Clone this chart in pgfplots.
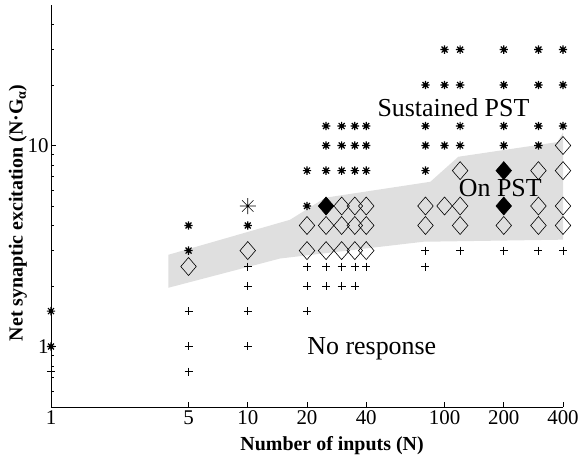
\documentclass[border=0pt]{standalone}
\usepackage{fontspec}
\setmainfont{Liberation Serif}
\usepackage{pgfplots}
\pgfplotsset{compat=1.18}

\pgfdeclareplotmark{blob}{%
  \pgfpathcircle{\pgfpointorigin}{0.5\pgfplotmarksize}%
  \pgfusepathqfill
  \pgfpathmoveto{\pgfqpoint{-\pgfplotmarksize}{0pt}}\pgfpathlineto{\pgfqpoint{\pgfplotmarksize}{0pt}}%
  \pgfpathmoveto{\pgfqpoint{0pt}{-\pgfplotmarksize}}\pgfpathlineto{\pgfqpoint{0pt}{\pgfplotmarksize}}%
  \pgfpathmoveto{\pgfqpoint{-0.707\pgfplotmarksize}{-0.707\pgfplotmarksize}}\pgfpathlineto{\pgfqpoint{0.707\pgfplotmarksize}{0.707\pgfplotmarksize}}%
  \pgfpathmoveto{\pgfqpoint{-0.707\pgfplotmarksize}{0.707\pgfplotmarksize}}\pgfpathlineto{\pgfqpoint{0.707\pgfplotmarksize}{-0.707\pgfplotmarksize}}%
  \pgfusepathqstroke}
\pgfdeclareplotmark{eightstar}{%
  \pgfpathmoveto{\pgfqpoint{-\pgfplotmarksize}{0pt}}\pgfpathlineto{\pgfqpoint{\pgfplotmarksize}{0pt}}%
  \pgfpathmoveto{\pgfqpoint{0pt}{-\pgfplotmarksize}}\pgfpathlineto{\pgfqpoint{0pt}{\pgfplotmarksize}}%
  \pgfpathmoveto{\pgfqpoint{-0.707\pgfplotmarksize}{-0.707\pgfplotmarksize}}\pgfpathlineto{\pgfqpoint{0.707\pgfplotmarksize}{0.707\pgfplotmarksize}}%
  \pgfpathmoveto{\pgfqpoint{-0.707\pgfplotmarksize}{0.707\pgfplotmarksize}}\pgfpathlineto{\pgfqpoint{0.707\pgfplotmarksize}{-0.707\pgfplotmarksize}}%
  \pgfusepathqstroke}

\begin{document}
\begin{tikzpicture}
\begin{axis}[
  name=ax,
  at={(0,0)}, anchor=south west,
  scale only axis, width=512bp, height=402bp,
  xmode=log, ymode=log,
  xmin=1, xmax=400, ymin=0.5, ymax=50,
  axis x line*=bottom, axis y line*=left,
  axis line style={line width=0.8pt},
  xtick={1,5,10,20,40,100,200,400},
  xticklabels={1,5,10,20,40,100,200,400},
  minor xtick={},
  ytick={1,10}, yticklabels={1,10},
  minor ytick={0.6,0.7,0.8,0.9,2,3,4,5,6,7,8,9,20,30,40},
  tick style={black, line width=0.6pt},
  major tick length=5bp, minor tick length=3bp,
  ticklabel style={font=\fontsize{21}{24}\selectfont},
  xticklabel style={yshift=0bp},
  yticklabel style={xshift=1bp},
  clip=false,
  xlabel={\textbf{Number of inputs (N)}},
  ylabel={\textbf{Net synaptic excitation (N·G\textsubscript{α})}},
  xlabel style={font=\fontsize{20}{24}\selectfont, at={(axis description cs:0.549,0)}, anchor=north, inner sep=0pt, yshift=-29bp},
  ylabel style={font=\fontsize{20}{24}\selectfont, at={(axis description cs:-0.0645,0.483)}, anchor=center, inner sep=0pt},
]
% shaded region
\addplot[fill=gray!25, draw=none] coordinates {
  (3.95,2.86) (16.4,4.27) (24.8,5.5) (84.7,6.6) (117.5,8.79) (375,10.4) (400,11.6)
  (400,3.4) (78,3.32) (14.6,2.74) (3.95,1.96)
} --cycle;

% sustained PST (small stars)
\addplot[only marks, mark=blob, mark size=4.2bp, line width=1.2pt, black] coordinates {
  (1,1.5) (1,1)
  (5,4) (5,3)
  (10,4)
  (20,7.5) (20,5)
  (25,12.5) (25,10) (25,7.5)
  (30,12.5) (30,10) (30,7.5)
  (35,12.5) (35,10) (35,7.5)
  (40,12.5) (40,10) (40,7.5)
  (80,20) (80,12.5) (80,10) (80,7.5)
  (100,30) (100,20) (100,10)
  (120,30) (120,20) (120,12.5) (120,10)
  (200,30) (200,20) (200,12.5) (200,10)
  (300,30) (300,20) (300,12.5) (300,10)
  (400,30) (400,20) (400,12.5)
};

% large asterisk
\addplot[only marks, mark=eightstar, mark size=8bp, line width=0.6pt, black] coordinates {
  (10,5)
};

% on PST (open diamonds)
\addplot[only marks, mark=diamond, mark size=9bp, line width=0.6pt, black,
  mark options={xscale=1.15, fill=none}] coordinates {
  (5,2.5)
  (10,3)
  (20,4) (20,3)
  (25,4) (25,3)
  (30,5) (30,4) (30,3)
  (35,5) (35,4) (35,3)
  (40,5) (40,4) (40,3)
  (80,5) (80,4)
  (100,5)
  (120,7.5) (120,5) (120,4)
  (200,4)
  (300,7.5) (300,5) (300,4)
  (400,10) (400,7.5) (400,5) (400,4)
};

% filled diamonds
\addplot[only marks, mark=diamond*, mark size=9bp, line width=0.6pt, black,
  mark options={xscale=1.15, fill=black}] coordinates {
  (25,5) (200,7.5) (200,5)
};

% no response (crosses)
\addplot[only marks, mark=+, mark size=4bp, line width=0.6pt, black] coordinates {
  (1,0.75)
  (5,1.5) (5,1) (5,0.75)
  (10,2.5) (10,2) (10,1.5) (10,1)
  (20,2.5) (20,2) (20,1.5)
  (25,2.5) (25,2)
  (30,2.5) (30,2)
  (35,2.5) (35,2)
  (40,2.5)
  (80,3) (80,2.5)
  (120,3) (200,3) (300,3) (400,3)
};

\node[anchor=base, inner sep=0pt, font=\fontsize{26}{30}\selectfont] at (axis cs:111,13.93) {Sustained PST};
\node[anchor=base, inner sep=0pt, font=\fontsize{26}{30}\selectfont] at (axis cs:192,5.56) {On PST};
\node[anchor=base, inner sep=0pt, font=\fontsize{26}{30}\selectfont] at (axis cs:42.7,0.913) {No response};
\end{axis}
\pgfresetboundingbox
\path[use as bounding box] (-51bp,-50bp) rectangle (532bp,407bp);
\end{tikzpicture}
\end{document}
